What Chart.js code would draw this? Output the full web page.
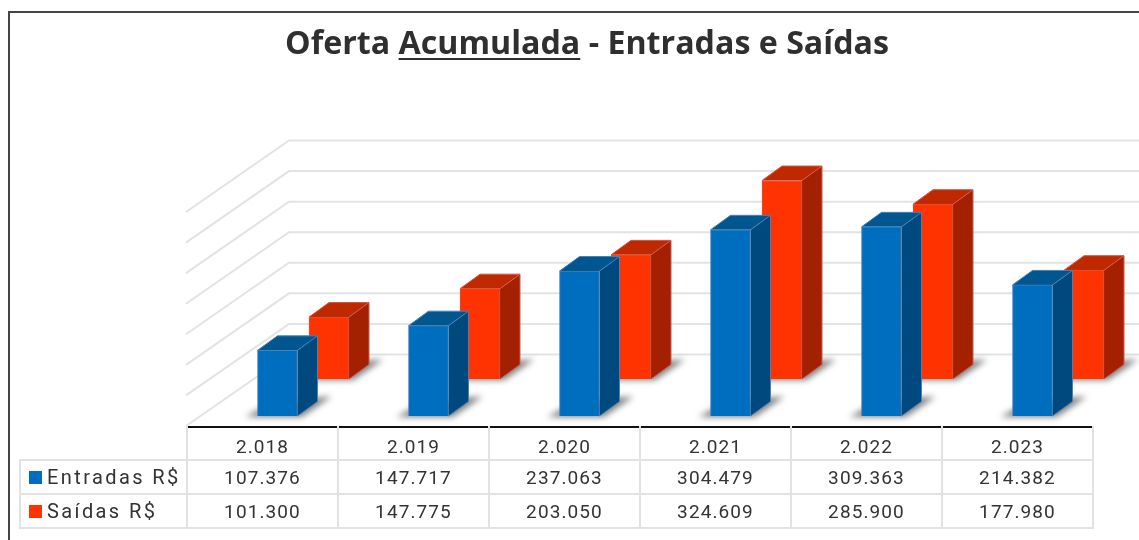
<!DOCTYPE html>
<html lang="pt">
<head>
<meta charset="utf-8">
<title>Oferta Acumulada</title>
<script src="https://cdn.jsdelivr.net/npm/chart.js@4"></script>
<style>
    html, body { margin: 0; padding: 0; background: #fff; overflow: hidden; }
    #stage { position: relative; width: 1139px; height: 540px; overflow: hidden; }
    #myChart { position: absolute; left: 0; top: 0; }
    #frame { position: absolute; left: 8px; top: 11px; width: 1140px; height: 540px; border: 2px solid #444; }
    #chart-heading {
        position: absolute; left: 9px; width: 1156px; top: 20px; margin: 0; text-align: center;
        font: 700 32.2px "Open Sans", sans-serif; color: #2f2f2f;
    }
    #chart-heading u { text-underline-offset: 4px; text-decoration-thickness: 2px; }
    #data-table {
        position: absolute; left: 19px; top: 426px; border-collapse: collapse; table-layout: fixed;
        font: 400 19px Roboto, sans-serif; letter-spacing: 1.1px; color: #333;
    }
    #data-table td { border: 2px solid #e2e2e2; text-align: center; padding: 0; height: 32px; }
    #data-table tr:first-child td { border-top: 2px solid #111; padding-top: 5px; height: 26px; }
    #data-table tr:first-child td.blank { border: none; border-bottom: 2px solid #e2e2e2; border-right: 2px solid #e2e2e2; }
    #data-table td.name { text-align: left; padding-left: 8px; white-space: nowrap; font-size: 20px; letter-spacing: 2.4px; }
    .swatch { display: inline-block; width: 13px; height: 13px; margin-right: 5px; }
</style>
</head>
<body>
<div id="stage">
    <canvas id="myChart" width="1139" height="540"></canvas>
    <div id="frame"></div>
    <h1 id="chart-heading">Oferta <u>Acumulada</u> - Entradas e Saídas</h1>
    <table id="data-table"></table>
</div>
<script>
const years = ["2.018", "2.019", "2.020", "2.021", "2.022", "2.023"]
const entradas = [107376, 147717, 237063, 304479, 309363, 214382]
const saidas = [101300, 147775, 203050, 324609, 285900, 177980]
const seriesNames = ["Entradas R$", "Saídas R$"]

const formatBr = value => value.toLocaleString("pt-BR")

// 3d look: each dataset sits some way back on the floor
const seriesDepth = [{ x: 16, y: 10 }, { x: 67.5, y: 47 }]
const wallDepth = { x: 103, y: 71.5 }
const barDepth = { x: 20, y: 14.5 }
const faceColors = [
    { front: "#006ebf", side: "#00497f", top: "#00568f", edge: "#4a7fb8" },
    { front: "#ff3300", side: "#a32000", top: "#bf2900", edge: "#d4574a" }
]

function fillShape(ctx, points, color) {
    ctx.fillStyle = color
    ctx.beginPath()
    points.forEach((p, i) => i === 0 ? ctx.moveTo(p[0], p[1]) : ctx.lineTo(p[0], p[1]))
    ctx.closePath()
    ctx.fill()
}

const wallsPlugin = {
    id: "walls",
    beforeDatasetsDraw(chart) {
        const { ctx, chartArea, scales } = chart
        ctx.save()
        ctx.strokeStyle = "#e3e3e3"
        ctx.lineWidth = 2
        scales.y.ticks.forEach(tick => {
            const y = scales.y.getPixelForValue(tick.value)
            ctx.beginPath()
            ctx.moveTo(chartArea.left, y)
            ctx.lineTo(chartArea.left + wallDepth.x, y - wallDepth.y)
            ctx.lineTo(chart.width, y - wallDepth.y)
            ctx.stroke()
        })
        ctx.restore()
    }
}

const depthPlugin = {
    id: "depth",
    beforeDatasetDraw(chart, args) {
        const { ctx } = chart
        const depth = seriesDepth[args.index]
        const colors = faceColors[args.index]
        ctx.save()
        ctx.translate(depth.x, -depth.y)
        args.meta.data.forEach(bar => {
            const left = bar.x - bar.width / 2
            const right = bar.x + bar.width / 2
            const dx = barDepth.x
            const dy = barDepth.y

            // shadow on the floor
            ctx.save()
            ctx.filter = "blur(3px)"
            fillShape(ctx, [
                [left - 12, bar.base + 1], [left + 4, bar.base - 8], [right + dx, bar.base - dy - 4],
                [right + dx + 14, bar.base - dy - 5], [right + 4, bar.base + 1]
            ], "rgba(70, 70, 70, 0.7)")
            ctx.restore()

            fillShape(ctx, [[right, bar.y], [right + dx, bar.y - dy], [right + dx, bar.base - dy], [right, bar.base]], colors.side)
            fillShape(ctx, [[left, bar.y], [left + dx, bar.y - dy], [right + dx, bar.y - dy], [right, bar.y]], colors.top)

            ctx.strokeStyle = colors.edge
            ctx.lineWidth = 1
            ctx.beginPath()
            ctx.moveTo(left, bar.y)
            ctx.lineTo(left + dx, bar.y - dy)
            ctx.lineTo(right + dx, bar.y - dy)
            ctx.lineTo(right + dx, bar.base - dy)
            ctx.lineTo(right, bar.base)
            ctx.moveTo(right + dx, bar.y - dy)
            ctx.lineTo(right, bar.y)
            ctx.stroke()
        })
    },
    afterDatasetDraw(chart) {
        chart.ctx.restore()
    }
}

new Chart(document.getElementById("myChart"), {
    type: "bar",
    data: {
        labels: years,
        datasets: [
            {
                label: seriesNames[0],
                data: entradas,
                backgroundColor: faceColors[0].front,
                borderColor: faceColors[0].edge
            },
            {
                label: seriesNames[1],
                data: saidas,
                backgroundColor: faceColors[1].front,
                borderColor: faceColors[1].edge
            }
        ]
    },
    plugins: [wallsPlugin, depthPlugin],
    options: {
        responsive: false,
        animation: false,
        clip: false,
        layout: { padding: { left: 186, right: 47, top: 212, bottom: 114 } },
        datasets: { bar: { grouped: false, barThickness: 40, borderWidth: 1 } },
        plugins: {
            legend: { display: false },
            title: { display: false },
            tooltip: { enabled: false }
        },
        scales: {
            x: { display: false },
            y: { display: false, min: 0, max: 350000, ticks: { stepSize: 50000 } }
        }
    }
})

// data table under the chart
const table = document.getElementById("data-table")
const colgroup = document.createElement("colgroup")
colgroup.innerHTML = `<col style="width:167px">` + years.map(() => `<col style="width:151px">`).join("")
table.appendChild(colgroup)

const headerRow = table.insertRow()
headerRow.insertCell().className = "blank"
years.forEach(year => { headerRow.insertCell().textContent = year })

const rows = [entradas, saidas]
rows.forEach((values, i) => {
    const row = table.insertRow()
    const nameCell = row.insertCell()
    nameCell.className = "name"
    nameCell.innerHTML = `<span class="swatch" style="background:${faceColors[i].front}"></span>${seriesNames[i]}`
    values.forEach(value => { row.insertCell().textContent = formatBr(value) })
})
</script>
</body>
</html>
